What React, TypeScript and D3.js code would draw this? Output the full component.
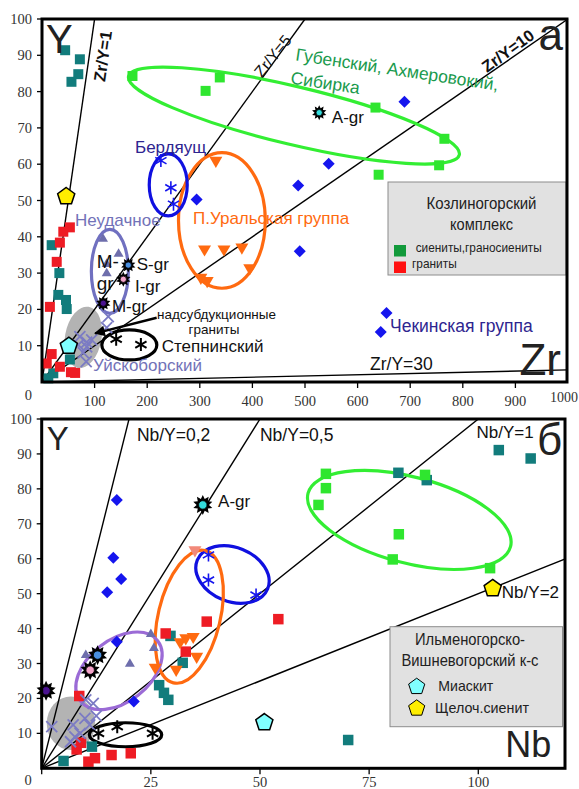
import React from "react";
import * as d3 from "d3";

type Pt = [number, number];

// ---------- Diagram а: Zr (x) vs Y (y), ppm ----------
const zrKzSyenite: Pt[] = [[44, 91.4], [72, 88.9], [69, 84.8], [56, 82.7], [18.4, 37.7], [33, 30], [31, 24], [45.6, 22.6], [47, 20.1], [53, 6.2], [21.5, 2.4], [12, 1]];
const zrKzGranite: Pt[] = [[53, 42.6], [40.5, 41.4], [34, 38.4], [28, 33.1], [15, 20.7], [18.4, 7.7], [9, 5.1], [34, 4.2], [55, 2.7], [63, 2.5]];
const zrGubensky: Pt[] = [[172, 84.3], [338, 83.9], [311, 80.2], [634, 75.6], [765, 67], [755, 59.7], [640, 57.1]];
const zrChekinsk: Pt[] = [[689, 77.2], [545, 60.1], [487, 54.1], [294, 50.3], [490, 36], [655, 19], [644, 13.8]];
const zrUralGroup: Pt[] = [[330.5, 61], [309, 36.6], [346, 36.6], [380, 37.1], [395, 31.4], [302, 28.8], [314, 27.9]];
const zrNeudachnoe: Pt[] = [[116, 39.4], [145.6, 35.3], [123, 32.5], [123, 29.9]];
const zrUyskobor: Pt[] = [[126, 18], [123, 15], [72, 12.5], [85, 11], [94.5, 11.6], [69, 10.2], [85, 9.7], [78.5, 8.1], [84, 5.6]];
const zrBerdyaush: Pt[] = [[226, 61], [245, 53.5], [250, 49]];
const zrStepninsky: Pt[] = [[141, 11.8], [188, 10.3]];
const zrAlkSyenite: Pt[] = [[46, 51.1]];
const zrMiaskite: Pt[] = [[51, 9.9]];
const zrRefPts: Pt[] = [[527, 74.2], [164, 32.2], [154.6, 28.3], [116.5, 21.7]];
const zrRatios = [1, 5, 10, 300];
const zrXTicks = [100, 200, 300, 400, 500, 600, 700, 800, 900];

// ---------- Diagram б: Nb (x) vs Y (y), ppm ----------
const nbKzSyenite: Pt[] = [[81.7, 84.6], [88.2, 82.5], [104.7, 91.1], [112, 88.7], [70.2, 8.1], [29.5, 37.9], [32.3, 30.2], [26.9, 23.8], [28, 21.6], [29, 19.6], [11.5, 6.2], [5, 2.1]];
const nbKzGranite: Pt[] = [[54.2, 42.7], [8.6, 20.7], [9, 7.3], [8, 5.4], [10.7, 1.9], [12.2, 2.9], [16, 3.8], [20.4, 4.3], [28.4, 38.6], [33, 33.4], [37.8, 42]];
const nbGubensky: Pt[] = [[65.1, 84.3], [65.1, 80.2], [63.4, 75.4], [87.8, 84], [81.8, 67], [80.4, 59.8], [102.7, 57.3]];
const nbChekinsk: Pt[] = [[17.2, 76.8], [16.4, 60.3], [18.2, 54.2], [15, 50.4], [17.2, 36.2], [21.1, 19.1]];
const nbUralGroup: Pt[] = [[26, 28.9], [31.7, 36.2], [33, 37.3], [34.7, 37.7], [35.5, 32], [30.8, 28.3]];
const nbUralExtra: Pt[] = [[35.1, 62.5]];
const nbNeudachnoe: Pt[] = [[10.1, 32.4], [20.2, 29.9], [25, 38.4], [25.7, 34.4]];
const nbUyskobor: Pt[] = [[2.3, 11.9], [7.2, 12.4], [9.9, 14.3], [11, 12.4], [7.6, 9], [6.6, 7.6], [8.8, 10], [11.8, 18.6], [10.1, 19.6], [12.5, 15]];
const nbBerdyaush: Pt[] = [[38.2, 61.1], [38.2, 53.9], [49.1, 49.6]];
const nbStepninsky: Pt[] = [[13, 10], [17.3, 11.9], [25.4, 10]];
const nbAlkSyenite: Pt[] = [[103.3, 51.5]];
const nbMiaskite: Pt[] = [[51, 13.1]];
const nbRefPts: Pt[] = [[36.9, 75.4], [12.8, 32.4], [11.1, 28.1], [1, 22.2]];
const nbRatios = [0.2, 0.5, 1, 2];
const nbXTicks = [0, 25, 50, 75, 100];

const yTicks = [10, 20, 30, 40, 50, 60, 70, 80, 90, 100];
const refNames = ["A-gr", "S-gr", "I-gr", "M-gr"];

// ---------- styles ----------
const SANS = "'Liberation Sans', Arial, Helvetica, sans-serif";
const SERIF = "'Liberation Serif', 'Times New Roman', serif";
const TEAL = "#127c7c";
const RED = "#ee1c24";
const LIME = "#2fe62f";
const LIME_E = "#33ee33";
const BLUE = "#1515ee";
const ORANGE = "#ff6a10";
const SLATE = "#6e6eac";
const CROSS = "#7b7bc4";
const YELLOW = "#ffee00";
const CYAN = "#80ffff";
const GREY = "#b3b3b3";
const TXT_GREEN = "#1a9a4d";
const TXT_INDIGO = "#2e2590";
const TXT_SLATE = "#7272b8";
const refColors = ["#33dddd", "#4a8fe0", "#f4a3c9", "#4a1290"];

const xA = d3.scaleLinear().domain([0, 1000]).range([42, 568]);
const yA = d3.scaleLinear().domain([0, 100]).range([382, 19]);
const xB = d3.scaleLinear().domain([0, 120]).range([41.7, 565.6]);
const yB = d3.scaleLinear().domain([0, 100]).range([768.3, 419]);

type Kind = "square" | "diamond" | "triDown" | "triUp" | "times" | "asterisk" | "pentagon";
interface Series { pts: Pt[]; kind: Kind; size: number; fill?: string; stroke?: string; sw?: number }

function shape(kind: Kind, s: number): string {
  const p = d3.path();
  if (kind === "square") {
    p.rect(-s / 2, -s / 2, s, s);
  } else if (kind === "diamond") {
    p.moveTo(0, -s); p.lineTo(s, 0); p.lineTo(0, s); p.lineTo(-s, 0); p.closePath();
  } else if (kind === "triDown" || kind === "triUp") {
    const h = s * 0.86, k = kind === "triDown" ? 1 : -1;
    p.moveTo(-s / 2, (-k * h) / 3); p.lineTo(s / 2, (-k * h) / 3); p.lineTo(0, (k * 2 * h) / 3); p.closePath();
  } else if (kind === "times") {
    p.moveTo(-s, -s); p.lineTo(s, s); p.moveTo(-s, s); p.lineTo(s, -s);
  } else if (kind === "asterisk") {
    for (const a of [90, 30, 150]) {
      const r = (a * Math.PI) / 180;
      p.moveTo(Math.cos(r) * s, Math.sin(r) * s); p.lineTo(-Math.cos(r) * s, -Math.sin(r) * s);
    }
  } else if (kind === "pentagon") {
    for (let i = 0; i < 5; i++) {
      const r = ((-90 + i * 72) * Math.PI) / 180;
      if (i === 0) p.moveTo(Math.cos(r) * s, Math.sin(r) * s); else p.lineTo(Math.cos(r) * s, Math.sin(r) * s);
    }
    p.closePath();
  }
  return p.toString();
}

function starPath(ro: number, ri: number, n: number): string {
  const p = d3.path();
  for (let i = 0; i < 2 * n; i++) {
    const r = i % 2 === 0 ? ro : ri;
    const a = (i * Math.PI) / n - Math.PI / 2;
    if (i === 0) p.moveTo(Math.cos(a) * r, Math.sin(a) * r); else p.lineTo(Math.cos(a) * r, Math.sin(a) * r);
  }
  p.closePath();
  return p.toString();
}

interface Field { c: Pt; rx: number; ry: number; rot: number; stroke?: string; fill?: string }
interface Label { t: string; x: number; y: number; s: number; c?: string; a?: "start" | "middle" | "end"; r?: number; w?: string }

const seriesA: Series[] = [
  { pts: zrKzSyenite, kind: "square", size: 10, fill: TEAL },
  { pts: zrKzGranite, kind: "square", size: 10, fill: RED },
  { pts: zrGubensky, kind: "square", size: 10, fill: LIME },
  { pts: zrChekinsk, kind: "diamond", size: 6, fill: BLUE },
  { pts: zrUralGroup, kind: "triDown", size: 13, fill: ORANGE },
  { pts: zrNeudachnoe, kind: "triUp", size: 10, fill: SLATE },
  { pts: zrUyskobor, kind: "times", size: 5.5, stroke: CROSS, sw: 1.8 },
  { pts: zrBerdyaush, kind: "asterisk", size: 6.5, stroke: BLUE, sw: 1.6 },
  { pts: zrStepninsky, kind: "asterisk", size: 6.5, stroke: "#000", sw: 2 },
  { pts: zrAlkSyenite, kind: "pentagon", size: 9, fill: YELLOW, stroke: "#000", sw: 1.5 },
  { pts: zrMiaskite, kind: "pentagon", size: 9, fill: CYAN, stroke: "#000", sw: 1.5 },
];

const seriesB: Series[] = [
  { pts: nbKzSyenite, kind: "square", size: 10.5, fill: TEAL },
  { pts: nbKzGranite, kind: "square", size: 10.5, fill: RED },
  { pts: nbGubensky, kind: "square", size: 10.5, fill: LIME },
  { pts: nbChekinsk, kind: "diamond", size: 6, fill: BLUE },
  { pts: nbUralGroup, kind: "triDown", size: 13, fill: ORANGE },
  { pts: nbUralExtra, kind: "triDown", size: 13, fill: "#f2897a" },
  { pts: nbNeudachnoe, kind: "triUp", size: 10, fill: SLATE },
  { pts: nbUyskobor, kind: "times", size: 5.5, stroke: CROSS, sw: 1.8 },
  { pts: nbBerdyaush, kind: "asterisk", size: 6.5, stroke: BLUE, sw: 1.6 },
  { pts: nbStepninsky, kind: "asterisk", size: 6.5, stroke: "#000", sw: 2 },
  { pts: nbAlkSyenite, kind: "pentagon", size: 9, fill: YELLOW, stroke: "#000", sw: 1.5 },
  { pts: nbMiaskite, kind: "pentagon", size: 9, fill: CYAN, stroke: "#000", sw: 1.5 },
];

const fieldsA: Field[] = [
  { c: [78.5, 12.3], rx: 18.3, ry: 31, rot: 10, fill: GREY },
  { c: [479, 73.4], rx: 170, ry: 29, rot: 13.4, stroke: LIME_E },
  { c: [342, 44.5], rx: 43.4, ry: 67.8, rot: 0, stroke: ORANGE },
  { c: [240, 54.3], rx: 19, ry: 31, rot: 0, stroke: "#1010e0" },
  { c: [129, 30.5], rx: 18.5, ry: 42, rot: 0, stroke: "#7070c0" },
  { c: [166, 10.2], rx: 27.5, ry: 15, rot: 0, stroke: "#000" },
];

const fieldsB: Field[] = [
  { c: [6.7, 12.9], rx: 24.2, ry: 26.7, rot: 0, fill: GREY },
  { c: [84.2, 71.1], rx: 104.7, ry: 43, rot: 14.8, stroke: LIME_E },
  { c: [43.7, 55.5], rx: 38, ry: 27, rot: 22, stroke: "#1010e0" },
  { c: [33.8, 43.4], rx: 68, ry: 31, rot: -76.5, stroke: ORANGE },
  { c: [17.7, 27.9], rx: 49, ry: 31, rot: -38, stroke: "#9b6bd6" },
  { c: [19.2, 9.6], rx: 36.2, ry: 12, rot: 0, stroke: "#000" },
];

const labelsA: Label[] = [
  { t: "Y", x: 7.6, y: 90.6, s: 40, c: "#222" },
  { t: "а", x: 990.5, y: 91.5, s: 44, c: "#222", a: "end" },
  { t: "Zr", x: 986.7, y: 1.9, s: 44, c: "#222", a: "end" },
  { t: "Zr/Y=1", x: 119.8, y: 82.6, s: 16.5, w: "bold", r: -82 },
  { t: "Zr/Y=5", x: 418, y: 83.7, s: 16, r: -51 },
  { t: "Zr/Y=10", x: 846, y: 85.1, s: 16.5, w: "bold", r: -36 },
  { t: "Zr/Y=30", x: 623.6, y: 3.3, s: 17.5 },
  { t: "Губенский, Ахмеровокий,", x: 481, y: 88.6, s: 17.5, c: TXT_GREEN, r: 8.5 },
  { t: "Сибирка", x: 471.5, y: 82.2, s: 17.5, c: TXT_GREEN, r: 8.5 },
  { t: "A-gr", x: 551, y: 71.3, s: 17 },
  { t: "Бердяущ", x: 176.8, y: 63.1, s: 17, c: TXT_INDIGO },
  { t: "П.Уральская группа", x: 287, y: 43.5, s: 17, c: ORANGE },
  { t: "Неудачное", x: 62.7, y: 43, s: 17, c: TXT_SLATE },
  { t: "M-", x: 104, y: 31.4, s: 19 },
  { t: "S-gr", x: 180, y: 30.9, s: 17 },
  { t: "gr", x: 104, y: 25.3, s: 19 },
  { t: "I-gr", x: 176.7, y: 24.8, s: 17 },
  { t: "M-gr", x: 133, y: 19.3, s: 17 },
  { t: "надсубдукционные", x: 218.6, y: 17.4, s: 13.5 },
  { t: "граниты", x: 327, y: 13.2, s: 13.5, a: "middle" },
  { t: "Степнинский", x: 227.6, y: 8.3, s: 17 },
  { t: "Уйскоборский", x: 97, y: 3, s: 17, c: TXT_SLATE },
  { t: "Чекинская группа", x: 661.6, y: 13.8, s: 17.5, c: TXT_INDIGO },
];

const labelsB: Label[] = [
  { t: "Y", x: 1.15, y: 91.1, s: 33, c: "#222" },
  { t: "б", x: 119.2, y: 89.7, s: 44, c: "#222", a: "end" },
  { t: "Nb/Y=0,2", x: 21.8, y: 93.7, s: 17.5 },
  { t: "Nb/Y=0,5", x: 50, y: 93.7, s: 17.5 },
  { t: "Nb/Y=1", x: 99.6, y: 94.6, s: 17 },
  { t: "A-gr", x: 40.4, y: 74.8, s: 17 },
  { t: "Nb/Y=2", x: 105.4, y: 48.8, s: 17 },
  { t: "Nb", x: 116.7, y: 3.2, s: 36, c: "#222", a: "end" },
];

// arrow pointing at the subduction-granite field
const arrowA: Pt[] = [[218, 17.7], [101, 13.4]];

type Scale = d3.ScaleLinear<number, number>;

function Markers({ series, x, y }: { series: Series[]; x: Scale; y: Scale }) {
  return (
    <g>
      {series.map((s, i) => {
        const d = shape(s.kind, s.size);
        const lineOnly = s.kind === "times" || s.kind === "asterisk";
        return (
          <g key={i}>
            {s.pts.map((p, j) => (
              <path
                key={j}
                d={d}
                transform={`translate(${x(p[0])},${y(p[1])})`}
                fill={lineOnly ? "none" : s.fill}
                stroke={s.stroke ?? "none"}
                strokeWidth={s.sw ?? 0}
                strokeLinejoin="miter"
              />
            ))}
          </g>
        );
      })}
    </g>
  );
}

function RefStars({ pts, x, y, ro }: { pts: Pt[]; x: Scale; y: Scale; ro: number }) {
  const d = starPath(ro, ro * 0.62, 10);
  return (
    <g>
      {pts.map((p, i) => (
        <g key={refNames[i]} transform={`translate(${x(p[0])},${y(p[1])})`}>
          <path d={d} fill="#000" />
          <circle r={ro * 0.52} fill="#000" />
          <circle r={ro * 0.42} fill={refColors[i]} stroke="#000" strokeWidth={0.8} />
        </g>
      ))}
    </g>
  );
}

function Fields({ fields, x, y, fill }: { fields: Field[]; x: Scale; y: Scale; fill: boolean }) {
  return (
    <g>
      {fields
        .filter((f) => (fill ? !!f.fill : !f.fill))
        .map((f, i) => {
          const cx = x(f.c[0]), cy = y(f.c[1]);
          return (
            <ellipse
              key={i}
              cx={cx}
              cy={cy}
              rx={f.rx}
              ry={f.ry}
              transform={`rotate(${f.rot} ${cx} ${cy})`}
              fill={f.fill ?? "none"}
              stroke={f.stroke ?? "none"}
              strokeWidth={3.2}
            />
          );
        })}
    </g>
  );
}

function Labels({ labels, x, y }: { labels: Label[]; x: Scale; y: Scale }) {
  return (
    <g fontFamily={SANS}>
      {labels.map((l, i) => {
        const px = x(l.x), py = y(l.y);
        return (
          <text
            key={i}
            x={px}
            y={py}
            fontSize={l.s}
            fill={l.c ?? "#111"}
            textAnchor={l.a ?? "start"}
            fontWeight={l.w ?? "normal"}
            transform={l.r ? `rotate(${l.r} ${px} ${py})` : undefined}
          >
            {l.t}
          </text>
        );
      })}
    </g>
  );
}

function RatioLines({ ratios, x, y, clip }: { ratios: number[]; x: Scale; y: Scale; clip: string }) {
  const [, xMax] = x.domain();
  const [, yMax] = y.domain();
  return (
    <g clipPath={`url(#${clip})`}>
      {ratios.map((r) => {
        const yEnd = xMax / r;
        const end: Pt = yEnd <= yMax ? [xMax, yEnd] : [yMax * r, yMax];
        return <line key={r} x1={x(0)} y1={y(0)} x2={x(end[0])} y2={y(end[1])} stroke="#000" strokeWidth={1.4} />;
      })}
    </g>
  );
}

function Axes({ x, y, xTicks, xLabels, zeroDy, xLabelDy }: { x: Scale; y: Scale; xTicks: number[]; xLabels: number[]; zeroDy: number; xLabelDy: number }) {
  const x0 = x(0), y0 = y(0);
  return (
    <g fontFamily={SERIF} fontSize={14.5} fill="#333">
      {yTicks.map((v) => (
        <g key={`y${v}`}>
          <line x1={x0 - 5} x2={x0} y1={y(v)} y2={y(v)} stroke="#000" strokeWidth={1.3} />
          <text x={x0 - 10} y={y(v) + 5} textAnchor="end">{v}</text>
        </g>
      ))}
      <text x={x0 - 10} y={y0 + zeroDy} textAnchor="end">0</text>
      {xTicks.map((v) => (
        <line key={`xt${v}`} x1={x(v)} x2={x(v)} y1={y0} y2={y0 + 6} stroke="#000" strokeWidth={1.3} />
      ))}
      {xLabels.map((v) => (
        <text key={`xl${v}`} x={x(v)} y={y0 + xLabelDy} textAnchor="middle">{v}</text>
      ))}
    </g>
  );
}

export default function App() {
  const fA = { x: xA(0), y: yA(100), w: 567 - xA(0), h: yA(0) - yA(100) };
  const fB = { x: xB(0), y: yB(100), w: 565 - xB(0), h: yB(0) - yB(100) };
  return (
    <svg width={579} height={789} style={{ position: "absolute", left: 0, top: 0, background: "#fff" }} fontFamily={SANS}>
      <defs>
        <clipPath id="clipA"><rect x={fA.x} y={fA.y} width={fA.w + 4} height={fA.h} /></clipPath>
        <clipPath id="clipB"><rect x={fB.x} y={fB.y} width={fB.w} height={fB.h} /></clipPath>
        <marker id="arrowHead" viewBox="0 0 10 10" refX={9} refY={5} markerWidth={5} markerHeight={4.5} orient="auto-start-reverse">
          <path d="M0,0L10,5L0,10Z" fill="#000" />
        </marker>
      </defs>
      <rect width={579} height={789} fill="#fff" />

      {/* ---- panel а ---- */}
      <Fields fields={fieldsA} x={xA} y={yA} fill={true} />
      <RatioLines ratios={zrRatios} x={xA} y={yA} clip="clipA" />
      <Fields fields={fieldsA} x={xA} y={yA} fill={false} />
      <Markers series={seriesA} x={xA} y={yA} />
      <RefStars pts={zrRefPts} x={xA} y={yA} ro={7.5} />
      <line
        x1={xA(arrowA[0][0])}
        y1={yA(arrowA[0][1])}
        x2={xA(arrowA[1][0])}
        y2={yA(arrowA[1][1])}
        stroke="#000"
        strokeWidth={2.4}
        markerEnd="url(#arrowHead)"
      />
      <Labels labels={labelsA} x={xA} y={yA} />
      <g>
        <rect x={388} y={182} width={178} height={93} fill="#e1e1e1" stroke="#8c8c8c" strokeWidth={1} />
        <text x={481.5} y={209} fontSize={16} textAnchor="middle" fill="#222" textLength={110} lengthAdjust="spacingAndGlyphs">Козлиногорский</text>
        <text x={481.5} y={230} fontSize={16} textAnchor="middle" fill="#222" textLength={63} lengthAdjust="spacingAndGlyphs">комплекс</text>
        <rect x={394} y={245} width={12} height={11.5} fill="#129a3b" />
        <text x={415.7} y={252} fontSize={13.5} fill="#222" textLength={126} lengthAdjust="spacingAndGlyphs">сиениты,граносиениты</text>
        <rect x={394} y={261.5} width={12} height={11.5} fill="#ff1010" />
        <text x={412} y={268} fontSize={13.5} fill="#222" textLength={44.7} lengthAdjust="spacingAndGlyphs">граниты</text>
      </g>
      <rect x={fA.x} y={fA.y} width={fA.w} height={fA.h} fill="none" stroke="#000" strokeWidth={3} />
      <Axes x={xA} y={yA} xTicks={zrXTicks} xLabels={zrXTicks} zeroDy={18} xLabelDy={24} />
      <text x={xA(1000) - 4} y={yA(0) + 20} textAnchor="middle" fontFamily={SERIF} fontSize={14} fill="#333">1000</text>

      {/* ---- panel б ---- */}
      <Fields fields={fieldsB} x={xB} y={yB} fill={true} />
      <RatioLines ratios={nbRatios} x={xB} y={yB} clip="clipB" />
      <Fields fields={fieldsB} x={xB} y={yB} fill={false} />
      <Markers series={seriesB} x={xB} y={yB} />
      <RefStars pts={nbRefPts} x={xB} y={yB} ro={10} />
      <Labels labels={labelsB} x={xB} y={yB} />
      <g>
        <rect x={390} y={626.7} width={172.5} height={100} fill="#e1e1e1" stroke="#8c8c8c" strokeWidth={1} />
        <text x={470} y={645} fontSize={16} textAnchor="middle" fill="#222" textLength={110} lengthAdjust="spacingAndGlyphs">Ильменогорско-</text>
        <text x={470} y={666} fontSize={16} textAnchor="middle" fill="#222" textLength={137} lengthAdjust="spacingAndGlyphs">Вишневогорский к-с</text>
        <path d={shape("pentagon", 8.5)} transform="translate(416.7,686.7)" fill={CYAN} stroke="#000" strokeWidth={1} />
        <text x={438.3} y={691} fontSize={15} fill="#222" textLength={55} lengthAdjust="spacingAndGlyphs">Миаскит</text>
        <path d={shape("pentagon", 8.5)} transform="translate(416.7,708.3)" fill={YELLOW} stroke="#000" strokeWidth={1} />
        <text x={435} y={712.7} fontSize={15} fill="#222" textLength={94} lengthAdjust="spacingAndGlyphs">Щелоч.сиенит</text>
      </g>
      <rect x={fB.x} y={fB.y} width={fB.w} height={fB.h} fill="none" stroke="#000" strokeWidth={3} />
      <Axes x={xB} y={yB} xTicks={nbXTicks} xLabels={nbXTicks.filter((v) => v > 0)} zeroDy={17} xLabelDy={18.5} />
    </svg>
  );
}
